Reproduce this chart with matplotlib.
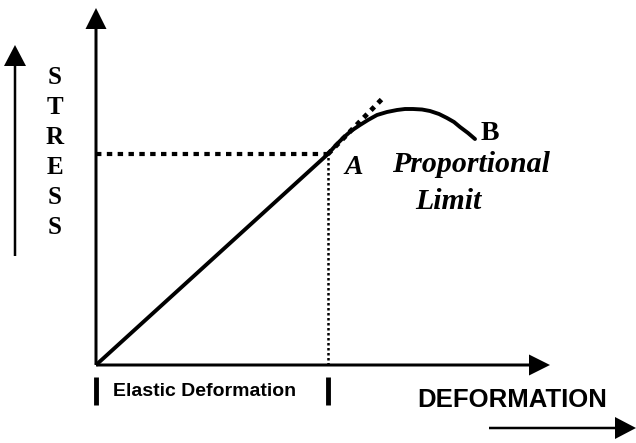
import matplotlib
matplotlib.use("Agg")
import matplotlib.pyplot as plt

# ---- data (deformation, stress) in chart units; origin at the axes corner ----
linear_deformation = [0, 232]
linear_stress = [0, 211]

curve_deformation = [232, 240, 247, 255, 264, 272, 281, 291, 301, 309, 317, 326,
                     334, 343, 351, 358, 364, 372, 379]
curve_stress = [211, 220, 227, 234, 240, 245, 250, 253, 255, 256, 256, 255.5,
                254, 251, 247, 243, 238, 232, 226]

tangent_deformation = [232, 287]
tangent_stress = [211, 267]

limit_deformation = 232
limit_stress = 211

y_axis_top = 357
x_axis_end = 454

stress_letters = ["S", "T", "R", "E", "S", "S"]

# ---- figure: axes fill the canvas, one unit == one pixel ----
fig = plt.figure(figsize=(6.36, 4.43), dpi=100)
ax = fig.add_axes([0, 0, 1, 1])
ax.set_xlim(-96, 540)
ax.set_ylim(-78, 365)
ax.axis("off")

k = "black"
# axes with arrowheads
ax.arrow(0, 0, 0, y_axis_top, width=3, head_width=21, head_length=21,
         length_includes_head=True, fc=k, ec=k, lw=0)
ax.arrow(0, 0, x_axis_end, 0, width=3, head_width=21, head_length=21,
         length_includes_head=True, fc=k, ec=k, lw=0)

# left "STRESS" arrow
ax.arrow(-81, 109, 0, 211, width=2.5, head_width=22, head_length=21,
         length_includes_head=True, fc=k, ec=k, lw=0)
# bottom "DEFORMATION" arrow
ax.arrow(393, -63, 147, 0, width=2.5, head_width=22, head_length=21,
         length_includes_head=True, fc=k, ec=k, lw=0)

# elastic line
ax.plot(linear_deformation, linear_stress, color=k, lw=2.8, solid_capstyle="butt")
# curve to B
ax.plot(curve_deformation, curve_stress, color=k, lw=2.8, solid_capstyle="round",
        solid_joinstyle="round")
# tangent extension (square dots)
ax.plot(tangent_deformation, tangent_stress, color=k, lw=3.5,
        linestyle=(0, (1, 1.1)), dash_capstyle="butt")
# horizontal dotted to stress axis
ax.plot([0, limit_deformation], [limit_stress, limit_stress], color=k, lw=3,
        linestyle=(0, (1.3, 1.3)), dash_capstyle="butt")
# vertical dotted to deformation axis
ax.plot([limit_deformation, limit_deformation], [0, limit_stress], color=k, lw=1.8,
        linestyle=(0, (1, 1)), dash_capstyle="butt")

# elastic deformation bracket
for xb in (0, limit_deformation):
    ax.plot([xb, xb], [-12, -40], color=k, lw=3.5, solid_capstyle="butt")
ax.text(109, -27, "Elastic Deformation", ha="center", va="center",
        fontsize=14, fontweight="bold", family="Liberation Sans")

ax.text(416, -35, "DEFORMATION", ha="center", va="center",
        fontsize=18.5, fontweight="bold", family="Liberation Sans")

# STRESS stacked letters
for i, ch in enumerate(stress_letters):
    ax.text(-41, 288 - i * 30, ch, ha="center", va="center",
            fontsize=18, fontweight="bold", family="Liberation Serif")

ax.text(258, 197, "A", ha="center", va="center", fontsize=20,
        fontstyle="italic", fontweight="bold", family="Liberation Serif")
ax.text(375, 200, "Proportional", ha="center", va="center", fontsize=21.5,
        fontstyle="italic", fontweight="bold", family="Liberation Serif")
ax.text(352, 164, "Limit", ha="center", va="center", fontsize=21.5,
        fontstyle="italic", fontweight="bold", family="Liberation Serif")
ax.text(394, 231, "B", ha="center", va="center", fontsize=20,
        fontweight="bold", family="Liberation Serif")

fig.savefig("out.png", dpi=100, facecolor="white")
